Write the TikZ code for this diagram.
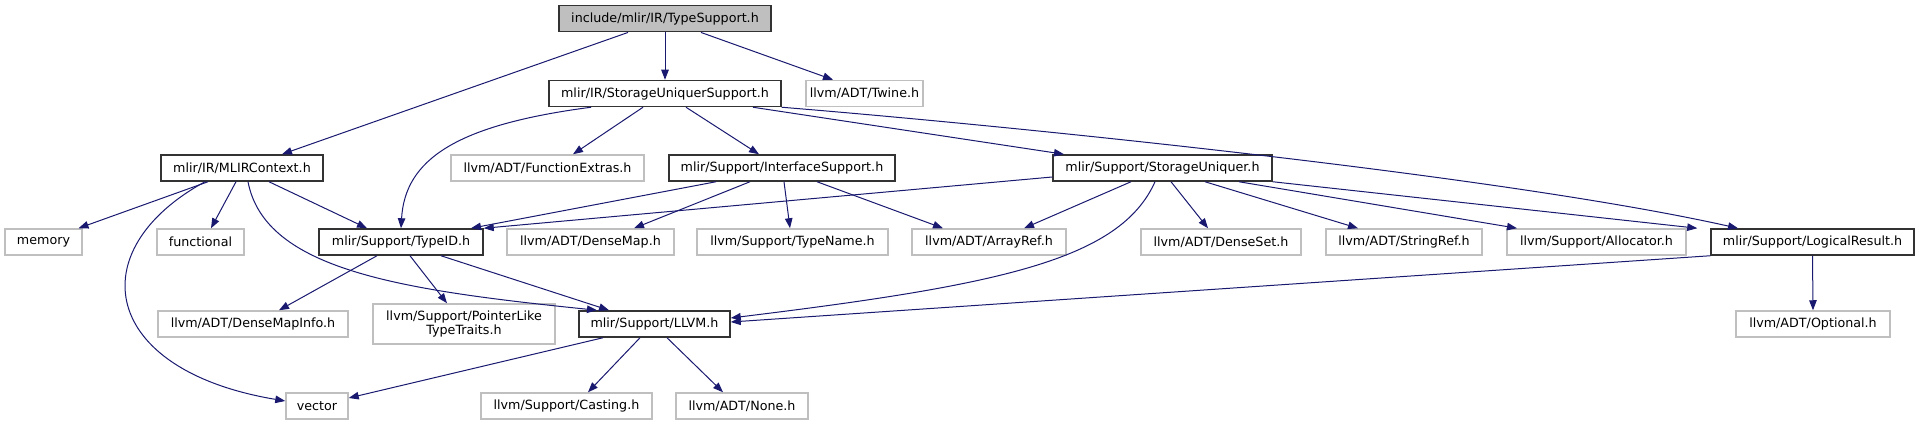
\documentclass[tikz,border=0pt]{standalone}
\usepackage{fontspec}
\setmainfont{DejaVu Sans}
\usepackage{tikz}
\usetikzlibrary{arrows.meta}
\definecolor{edge}{HTML}{191970}
\definecolor{extline}{HTML}{BFBFBF}
\definecolor{rootbg}{HTML}{BFBFBF}

\begin{document}
\begin{tikzpicture}[x=1pt,y=-1pt,
  box/.style={minimum height=26pt,inner xsep=1pt,inner ysep=0pt,
              font=\fontsize{12.7}{14.5}\selectfont,line width=1.5pt},
  hdr/.style={box,draw=black!80},
  ext/.style={box,draw=extline},
  root/.style={box,draw=black!80,fill=rootbg},
  arr/.style={-{Triangle[length=10pt,width=7.5pt]},draw=edge,line width=1pt}
]
\useasboundingbox (0,0) rectangle (1919,425);

\node[root,minimum width=212pt] (ts) at (665,18.7) {include/mlir/IR/TypeSupport.h};
\node[hdr,minimum width=232pt] (sus) at (665,93.5) {mlir/IR/StorageUniquerSupport.h};
\node[ext,minimum width=117pt] (twine) at (864.5,93.5) {llvm/ADT/Twine.h};

\node[hdr,minimum width=162pt] (ctx) at (242,168) {mlir/IR/MLIRContext.h};
\node[ext,minimum width=193pt] (fext) at (547.5,168) {llvm/ADT/FunctionExtras.h};
\node[hdr,minimum width=226pt] (isup) at (782,168) {mlir/Support/InterfaceSupport.h};
\node[hdr,minimum width=219pt] (su) at (1162.5,168) {mlir/Support/StorageUniquer.h};

\node[ext,minimum width=77pt] (memory) at (43.5,242) {memory};
\node[ext,minimum width=87pt] (functional) at (200.5,242) {functional};
\node[hdr,minimum width=164pt] (typeid) at (401,242) {mlir/Support/TypeID.h};
\node[ext,minimum width=167pt] (densemap) at (590.5,242) {llvm/ADT/DenseMap.h};
\node[ext,minimum width=191pt] (typename) at (792.5,242) {llvm/Support/TypeName.h};
\node[ext,minimum width=154pt] (arrayref) at (989,242) {llvm/ADT/ArrayRef.h};
\node[ext,minimum width=160pt] (denseset) at (1221,242) {llvm/ADT/DenseSet.h};
\node[ext,minimum width=156pt] (stringref) at (1404,242) {llvm/ADT/StringRef.h};
\node[ext,minimum width=179pt] (allocator) at (1596.5,242) {llvm/Support/Allocator.h};
\node[hdr,minimum width=203pt] (logres) at (1812.5,242) {mlir/Support/LogicalResult.h};

\node[ext,minimum width=190pt] (dmi) at (253,324) {llvm/ADT/DenseMapInfo.h};
\node[ext,minimum width=182pt,minimum height=40pt,align=center] (ptt) at (464,324) {llvm/Support/PointerLike\\TypeTraits.h};
\node[hdr,minimum width=151pt] (llvm) at (654.5,324) {mlir/Support/LLVM.h};
\node[ext,minimum width=154pt] (optional) at (1813,324) {llvm/ADT/Optional.h};

\node[ext,minimum width=62pt] (vector) at (317,406) {vector};
\node[ext,minimum width=171pt] (casting) at (566.5,406) {llvm/Support/Casting.h};
\node[ext,minimum width=132pt] (none) at (742,406) {llvm/ADT/None.h};

\draw[arr] ([xshift=-37pt]ts.south) -- ([xshift=40pt]ctx.north);
\draw[arr] (ts.south) -- (sus.north);
\draw[arr] ([xshift=36pt]ts.south) -- ([xshift=-31.5pt]twine.north);

\draw[arr] ([xshift=-74pt]sus.south) .. controls (455,125) and (405,160) .. (typeid.north);
\draw[arr] ([xshift=-22pt]sus.south) -- ([xshift=25.5pt]fext.north);
\draw[arr] ([xshift=21pt]sus.south) -- ([xshift=-23pt]isup.north);
\draw[arr] ([xshift=88pt]sus.south) -- ([xshift=-98.5pt]su.north);
\draw[arr] (sus.south east) .. controls (1000,125) and (1500,175) .. ([xshift=-74.5pt]logres.north);

\draw[arr] ([xshift=-34pt]ctx.south) -- ([xshift=35pt]memory.north);
\draw[arr] ([xshift=-6pt]ctx.south) -- ([xshift=10.5pt]functional.north);
\draw[arr] ([xshift=-37pt]ctx.south) .. controls (80,250) and (100,370) .. ([yshift=5pt]vector.west);
\draw[arr] ([xshift=27pt]ctx.south) -- ([xshift=-34pt]typeid.north);
\draw[arr] ([xshift=6pt]ctx.south) .. controls (265,270) and (400,290) .. ([xshift=-57.5pt]llvm.north);

\draw[arr] ([xshift=-66pt]isup.south) -- ([xshift=70pt]typeid.north);
\draw[arr] ([xshift=-32pt]isup.south) -- ([xshift=43.5pt]densemap.north);
\draw[arr] ([xshift=2pt]isup.south) -- ([xshift=-2.5pt]typename.north);
\draw[arr] ([xshift=35pt]isup.south) -- ([xshift=-46pt]arrayref.north);

\draw[arr] ([yshift=-9pt]su.west) -- (typeid.north east);
\draw[arr] ([xshift=-31.5pt]su.south) -- ([xshift=35pt]arrayref.north);
\draw[arr] ([xshift=-7.5pt]su.south) .. controls (1120,260) and (1000,285) .. ([yshift=6pt]llvm.east);
\draw[arr] ([xshift=8.5pt]su.south) -- ([xshift=-13pt]denseset.north);
\draw[arr] ([xshift=42.5pt]su.south) -- ([xshift=-46pt]stringref.north);
\draw[arr] ([xshift=76.5pt]su.south) -- ([xshift=-79.5pt]allocator.north);
\draw[arr] (su.south east) -- ([xshift=-13pt]logres.north west);

\draw[arr] ([xshift=-24pt]typeid.south) -- ([xshift=26pt]dmi.north);
\draw[arr] ([xshift=9pt]typeid.south) -- ([xshift=-17pt]ptt.north);
\draw[arr] ([xshift=40pt]typeid.south) -- ([xshift=-45.5pt]llvm.north);

\draw[arr] ([xshift=-51.5pt]llvm.south) -- ([yshift=8pt]vector.east);
\draw[arr] ([xshift=-14.5pt]llvm.south) -- ([xshift=21.5pt]casting.north);
\draw[arr] ([xshift=12.5pt]llvm.south) -- ([xshift=-19pt]none.north);

\draw[arr] (logres.south west) -- ([yshift=2pt]llvm.east);
\draw[arr] (logres.south) -- (optional.north);
\end{tikzpicture}
\end{document}
